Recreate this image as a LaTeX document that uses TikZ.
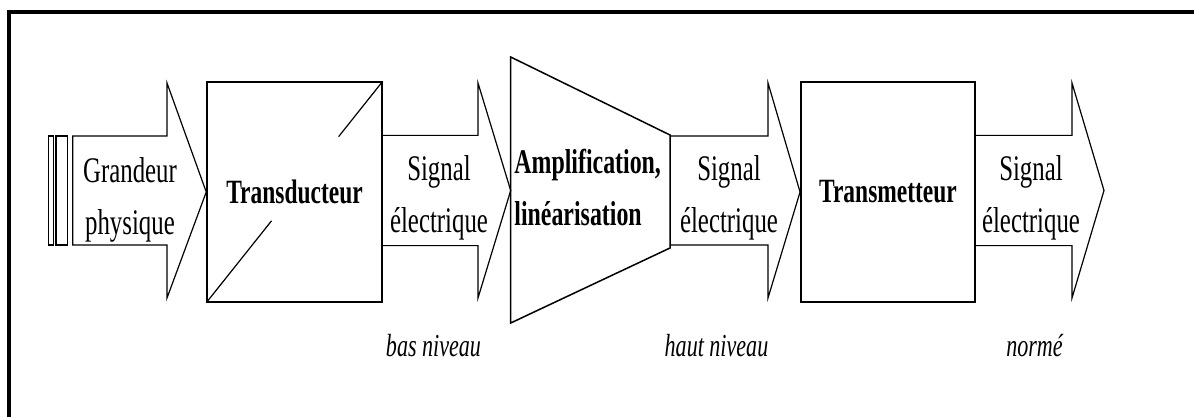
\documentclass[tikz,border=0pt]{standalone}
\usepackage{fontspec}
\setmainfont{Liberation Serif}[FakeStretch=0.69]
\usepackage{tikz}
\usetikzlibrary{
  positioning,
  calc
}
\tikzset{
  blockbox/.style = {
    rectangle, draw=black, line width=0.75pt,
    minimum width=#1, minimum height=110pt,
    inner sep=0pt, align=center,
    font=\fontsize{17}{26}\selectfont\bfseries
  },
  blockbox/.default = 87.5pt,
  barbox/.style = {
    rectangle, draw=black, line width=0.6pt,
    minimum width=#1, minimum height=54.5pt, inner sep=0pt
  },
  sigbody/.style = {draw=black, line width=0.6pt, line join=miter},
  sigtxt/.style  = {align=center, inner sep=0pt,
    font=\fontsize{18}{26}\selectfont},
  amptxt/.style  = {align=left, inner sep=0pt,
    font=\fontsize{17.3}{26}\selectfont\bfseries},
  lvl/.style     = {inner sep=0pt, font=\fontsize{16}{20}\selectfont\itshape},
  frame/.style   = {draw=black, line width=2pt},
}

\begin{document}
\begin{tikzpicture}[x=0.5pt, y=-0.5pt]
  \useasboundingbox (0,0) rectangle (1194,417);
  \draw[frame] (9,425) -- (9,12) -- (1194,12);

  % blocks
  \node[barbox=2.5pt]  (barA) at (50.8,190.5) {};
  \node[barbox=5.85pt] (barB) at (61.9,190.5) {};
  \node[blockbox] (trans) at (294.5,192) {Transducteur};
  \node[blockbox=87.2pt] (transm) at (888,192) {Transmetteur};
  \coordinate (amp-w) at (510.7,190.5);
  \draw[sigbody, line width=0.75pt]
    (510.7,57) -- (670,135) -- (670,248) -- (510.7,323) -- cycle;
  \node[amptxt, anchor=west] (amp) at (514,187)
    {Amplification,\\lin\'earisation};

  % marks in the transducer
  \draw[sigbody] (trans.north east) --
    ($(trans.north east)!0.25!(trans.south west)$);
  \draw[sigbody] ($(trans.north east)!0.63!(trans.south west)$) --
    (trans.south west);

  %% Arrows
  \draw[sigbody] (72.7,136) -| (167,83) -- (trans.west)
    -- (167,298) |- (72.7,245) -- cycle;
  \draw[sigbody] (trans.east |- barA.north) -| (478,83) -- (amp-w)
    -- (478,298) |- (trans.east |- barA.south);
  \draw[sigbody] (670,136) -| (768,83) -- (transm.west)
    -- (768,298) |- (670,245);
  \coordinate (out) at (1104,190.5);
  \draw[sigbody] (transm.east |- barA.north) -| (1072,83) -- (out)
    -- (1072,298) |- (transm.east |- barA.south);

  % arrow texts
  \node[sigtxt] (sig0) at (130,200)  {Grandeur\\physique};
  \node[sigtxt] (sig1) at (439,198)  {Signal\\\'electrique};
  \node[sigtxt] (sig2) at (729,198)  {Signal\\\'electrique};
  \node[sigtxt] (sig3) at (1031,198) {Signal\\\'electrique};
  \node[lvl] (lvl1) at (433.5,346) {bas niveau};
  \node[lvl] (lvl2) at (716.5,346) {haut niveau};
  \node[lvl] (lvl3) at (1034.5,346) {norm\'e};

\end{tikzpicture}
\end{document}
